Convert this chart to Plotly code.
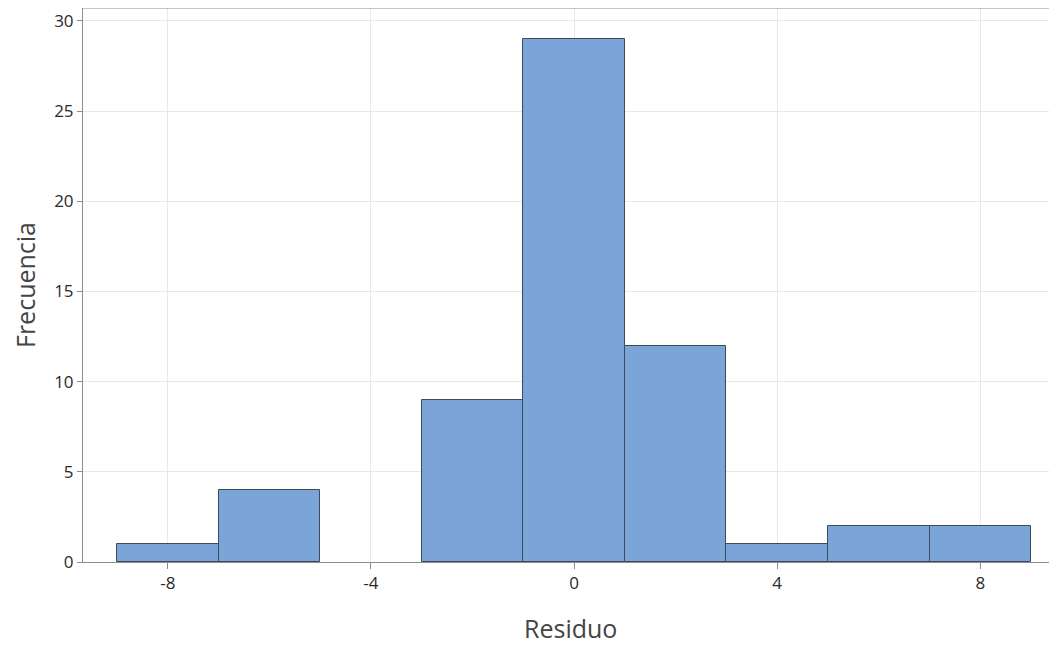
import plotly.graph_objects as go

bin_centers = [-8, -6, -4, -2, 0, 2, 4, 6, 8]
counts = [1, 4, 0, 9, 29, 12, 1, 2, 2]
bin_width = 2
x_ticks = [-8, -4, 0, 4, 8]
y_ticks = [0, 5, 10, 15, 20, 25, 30]

fig = go.Figure()
fig.add_trace(go.Bar(
    x=bin_centers, y=counts, width=[bin_width] * len(bin_centers),
    marker=dict(color="#7BA5D9",
                line=dict(color="#3E4A5A", width=[1 if c > 0 else 0 for c in counts])),
    showlegend=False,
))

font = "Open Sans, Noto Sans, sans-serif"
fig.update_layout(
    width=1049, height=638,
    margin=dict(l=75, r=0, t=0, b=84),
    plot_bgcolor="white", paper_bgcolor="white",
    bargap=0,
    font=dict(family=font, color="#333333"),
    xaxis=dict(
        range=[-9.67, 9.51], tickvals=x_ticks, ticktext=[str(v) for v in x_ticks],
        showgrid=True, gridcolor="#E8E8E8", zeroline=False, automargin=False,
        showline=True, linecolor="#8C8C8C", linewidth=1, mirror=False,
        ticks="outside", ticklen=6, tickcolor="#8C8C8C",
        tickfont=dict(size=17, color="#2A2A2A"),
    ),
    yaxis=dict(
        range=[0, 30.72], tickvals=y_ticks,
        showgrid=True, gridcolor="#E8E8E8", zeroline=False, automargin=False,
        showline=True, linecolor="#8C8C8C", linewidth=1,
        ticks="outside", ticklen=5, tickcolor="#8C8C8C",
        tickfont=dict(size=17, color="#2A2A2A"),
        title=dict(text="Frecuencia", font=dict(size=25, color="#444444"), standoff=24),
    ),
)
fig.add_annotation(text="Residuo", xref="paper", yref="paper", x=0.5, y=-0.119,
                   xanchor="center", yanchor="middle", showarrow=False,
                   font=dict(size=25, color="#444444"))
fig.add_shape(type="line", xref="paper", yref="paper", x0=0, x1=1, y0=1, y1=1,
              line=dict(color="#8C8C8C", width=1))
fig.write_html("out.html")
